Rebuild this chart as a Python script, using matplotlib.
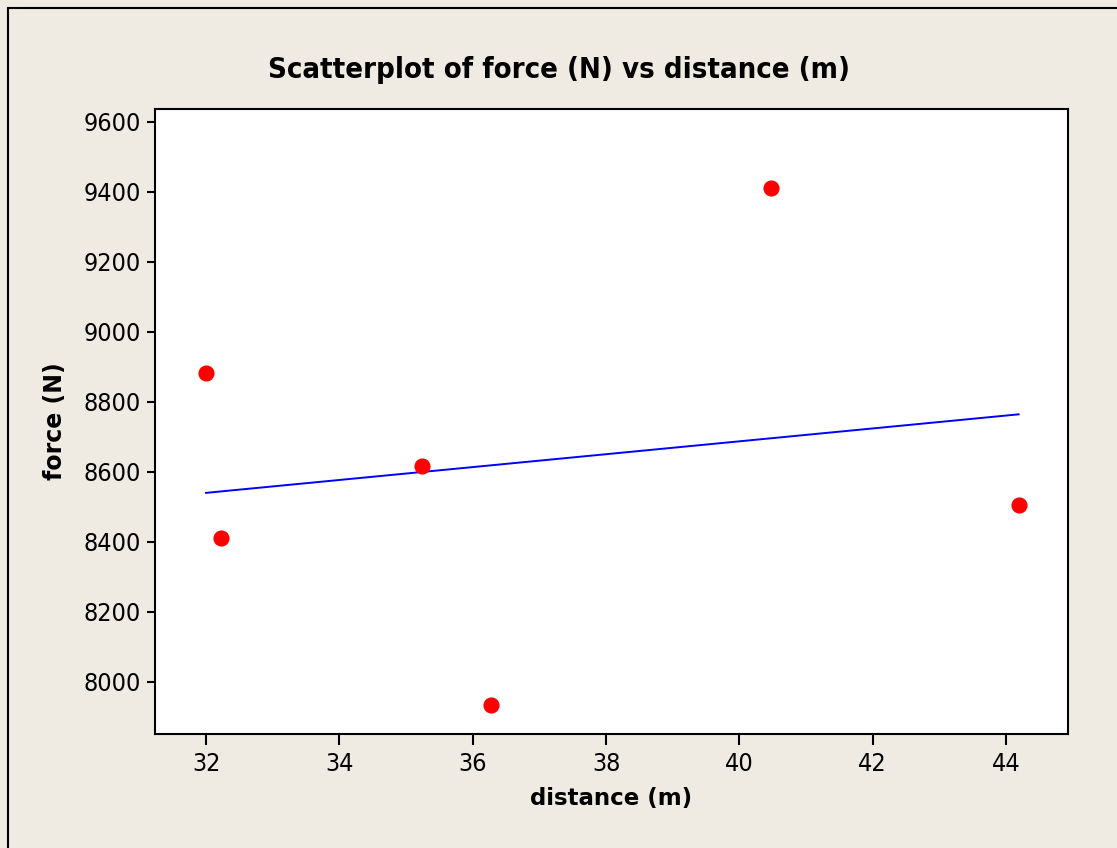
import numpy as np
import matplotlib
matplotlib.use('Agg')
import matplotlib.pyplot as plt
from matplotlib.patches import Rectangle

# data
distance = [32.0, 32.22, 35.24, 36.27, 40.47, 44.19]   # m
force = [8883, 8409, 8617, 7934, 9411, 8503]            # N
xticks = [32, 34, 36, 38, 40, 42, 44]
yticks = [8000, 8200, 8400, 8600, 8800, 9000, 9200, 9400, 9600]

bg = '#EFEBE2'

fig = plt.figure(figsize=(11.17, 8.48), dpi=100, facecolor=bg)
ax = fig.add_axes([155/1117, 1 - 734/848, (1068-155)/1117, (734-109)/848])
ax.set_facecolor('white')

# fitted regression line
slope, icpt = np.polyfit(distance, force, 1)
xl = np.array([min(distance), max(distance)])
ax.plot(xl, slope*xl + icpt, color='#0000FF', lw=1.4, zorder=2)
ax.scatter(distance, force, s=135, color='#FF0000', zorder=3, linewidths=0)

ax.set_xlim(31.235, 44.93)
ax.set_ylim(7850, 9636)
ax.set_xticks(xticks)
ax.set_yticks(yticks)
for s in ax.spines.values():
    s.set_linewidth(1.5)
ax.tick_params(axis='x', direction='out', length=8, width=1.5, pad=5)
ax.tick_params(axis='y', direction='out', length=6, width=1.5, pad=4)
for lab in ax.get_xticklabels() + ax.get_yticklabels():
    lab.set_family('DejaVu Sans')
    lab.set_stretch('condensed')
    lab.set_fontsize(18)

ax.set_xlabel('distance (m)', fontsize=16.5, fontweight='bold', labelpad=8)
ax.set_ylabel('force (N)', fontsize=17, fontweight='bold', labelpad=12)
fig.text(0.5, 1 - 70/848, 'Scatterplot of force (N) vs distance (m)', ha='center', va='center',
         fontsize=21, fontweight='bold', family='DejaVu Sans', stretch='condensed')

# outer frame
fig.patches.append(Rectangle((8/1117, -0.01), 1.1, 1 - 8/848 + 0.01, transform=fig.transFigure,
                             fill=False, edgecolor='black', lw=1.5))

fig.savefig('out.png', dpi=100, facecolor=bg)
